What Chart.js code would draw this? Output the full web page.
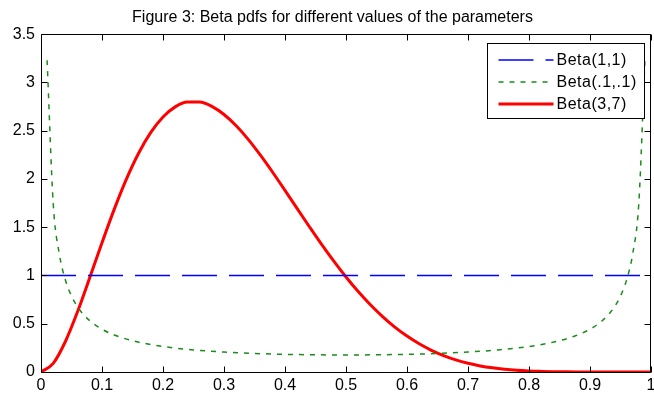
<!DOCTYPE html>
<html><head><meta charset="utf-8">
<script src="https://cdn.jsdelivr.net/npm/chart.js@4/dist/chart.umd.min.js"></script>
<style>html,body{margin:0;padding:0;background:#fff}canvas{display:block}</style>
</head><body>
<canvas id="c" width="654" height="395"></canvas>
<script>
const titleText = 'Figure 3: Beta pdfs for different values of the parameters';
const seriesLabels = ['Beta(1,1)', 'Beta(.1,.1)', 'Beta(3,7)'];

const uniformX = [0, 1];
const uniformY = [1, 1];

const symX = [0.01, 0.02, 0.03, 0.04, 0.05, 0.06, 0.07, 0.08, 0.10, 0.12, 0.15, 0.17, 0.20, 0.25, 0.30, 0.35, 0.40, 0.45, 0.50,
              0.55, 0.60, 0.65, 0.70, 0.75, 0.80, 0.83, 0.85, 0.88, 0.90, 0.92, 0.93, 0.94, 0.95, 0.96, 0.97, 0.98, 0.99];
const symY = [3.23, 1.747, 1.224, 0.954, 0.787, 0.675, 0.593, 0.531, 0.443, 0.384, 0.324, 0.296, 0.264, 0.229, 0.207, 0.192, 0.183, 0.178, 0.177,
              0.178, 0.183, 0.192, 0.207, 0.229, 0.264, 0.296, 0.324, 0.384, 0.443, 0.531, 0.593, 0.675, 0.787, 0.954, 1.224, 1.747, 3.23];

const skewX = [0, 0.02, 0.04, 0.06, 0.08, 0.10, 0.12, 0.14, 0.16, 0.18, 0.20, 0.22, 0.24, 0.26, 0.28, 0.30, 0.32, 0.34, 0.36, 0.38,
               0.40, 0.42, 0.44, 0.46, 0.48, 0.50, 0.52, 0.54, 0.56, 0.58, 0.60, 0.62, 0.64, 0.66, 0.68, 0.70, 0.72, 0.74, 0.76, 0.78,
               0.80, 0.82, 0.84, 0.86, 0.88, 0.90, 0.92, 0.94, 0.96, 0.98, 1.00];
const skewY = [0, 0.089, 0.316, 0.626, 0.978, 1.339, 1.685, 1.998, 2.266, 2.482, 2.642, 2.747, 2.797, 2.797, 2.752, 2.668, 2.551, 2.408, 2.244, 2.067,
               1.881, 1.692, 1.505, 1.322, 1.148, 0.984, 0.833, 0.696, 0.574, 0.465, 0.372, 0.292, 0.225, 0.170, 0.125, 0.090, 0.063, 0.043, 0.028, 0.017,
               0.010, 0.006, 0.003, 0.0014, 0.0006, 0.0002, 0.0001, 0, 0, 0, 0];

const xTicks = [0, 0.1, 0.2, 0.3, 0.4, 0.5, 0.6, 0.7, 0.8, 0.9, 1];
const xTickLabels = ['0', '0.1', '0.2', '0.3', '0.4', '0.5', '0.6', '0.7', '0.8', '0.9', '1'];
const yTicks = [0, 0.5, 1, 1.5, 2, 2.5, 3, 3.5];
const yTickLabels = ['0', '0.5', '1', '1.5', '2', '2.5', '3', '3.5'];

const toPts = (xs, ys) => xs.map((x, i) => ({x: x, y: ys[i]}));

// centre the title a little to the right, as in the reference
const titleShift = {
  id: 'titleShift',
  afterLayout(chart) {
    if (chart.titleBlock) { chart.titleBlock.left += 14; }
  }
};

const frameAndLegend = {
  id: 'frameAndLegend',
  afterDatasetsDraw(chart) {
    const ctx = chart.ctx;
    const ca = chart.chartArea;
    const xs = chart.scales.x, ys = chart.scales.y;
    const L = Math.round(ca.left) + 0.5, R = Math.round(ca.right) - 0.5;
    const T = Math.round(ca.top) + 0.5, B = Math.round(ca.bottom) + 0.5;
    const tl = 6;
    ctx.save();
    ctx.strokeStyle = '#000';
    ctx.lineWidth = 1;
    ctx.setLineDash([]);
    ctx.beginPath();
    ctx.rect(L, T, R - L, B - T);
    xTicks.forEach(v => {
      const p = Math.round(xs.getPixelForValue(v)) + 0.5;
      ctx.moveTo(p, B); ctx.lineTo(p, B - tl);
      ctx.moveTo(p, T); ctx.lineTo(p, T + tl);
    });
    yTicks.forEach(v => {
      const p = Math.round(ys.getPixelForValue(v)) + 0.5;
      ctx.moveTo(L, p); ctx.lineTo(L + tl, p);
      ctx.moveTo(R, p); ctx.lineTo(R - tl, p);
    });
    ctx.stroke();

    // legend box
    const bw = 157, bh = 75;
    const bx = Math.round(ca.right) - 7 - bw + 0.5;
    const by = Math.round(ca.top) + 9 + 0.5;
    ctx.fillStyle = '#fff';
    ctx.fillRect(bx, by, bw, bh);
    ctx.strokeRect(bx, by, bw, bh);
    ctx.font = '16px "Liberation Sans", Arial, sans-serif';
    if ('letterSpacing' in ctx) ctx.letterSpacing = '0.5px';
    ctx.textBaseline = 'middle';
    ctx.textAlign = 'left';
    chart.data.datasets.forEach((ds, i) => {
      const y = Math.round(by + 16 + i * 22);
      ctx.save();
      ctx.strokeStyle = ds.borderColor;
      ctx.lineWidth = ds.borderWidth;
      ctx.setLineDash(ds.borderDash || []);
      ctx.beginPath();
      ctx.moveTo(bx + 11, y);
      ctx.lineTo(bx + 66, y);
      ctx.stroke();
      ctx.restore();
      ctx.fillStyle = '#000';
      ctx.fillText(ds.label, bx + 69, y + 1);
    });
    ctx.restore();
  }
};

const tickFont = {family: '"Liberation Sans", Arial, sans-serif', size: 16};

new Chart(document.getElementById('c'), {
  type: 'line',
  data: {
    datasets: [
      {label: seriesLabels[0], data: toPts(uniformX, uniformY), borderColor: '#0000ff', borderWidth: 1.5,
       borderDash: [35, 12], pointRadius: 0, fill: false},
      {label: seriesLabels[1], data: toPts(symX, symY), borderColor: '#1a8c1a', borderWidth: 1.5,
       borderDash: [5, 6], pointRadius: 0, fill: false, cubicInterpolationMode: 'monotone'},
      {label: seriesLabels[2], data: toPts(skewX, skewY), borderColor: '#ff0000', borderWidth: 3,
       pointRadius: 0, fill: false, cubicInterpolationMode: 'monotone'}
    ]
  },
  options: {
    responsive: false,
    animation: false,
    devicePixelRatio: 1,
    layout: {padding: {left: 0, right: 3, top: 0, bottom: 0}},
    plugins: {
      legend: {display: false},
      tooltip: {enabled: false},
      title: {display: true, text: titleText, color: '#000',
              font: {family: '"Liberation Sans", Arial, sans-serif', size: 16, weight: 'normal'},
              padding: {top: 8, bottom: 7}}
    },
    scales: {
      x: {
        type: 'linear', min: 0, max: 1,
        afterBuildTicks: s => { s.ticks = xTicks.map(v => ({value: v})); },
        ticks: {callback: (v, i) => xTickLabels[i], color: '#000', font: tickFont, padding: 4,
                maxRotation: 0, minRotation: 0, autoSkip: false},
        grid: {display: false, drawTicks: false},
        border: {display: false},
        afterFit: s => { s.height = 23; s.paddingLeft = 0; s.paddingRight = 0; }
      },
      y: {
        type: 'linear', min: 0, max: 3.5,
        afterBuildTicks: s => { s.ticks = yTicks.map(v => ({value: v})); },
        ticks: {callback: (v, i) => yTickLabels[i], color: '#000', font: tickFont, padding: 6, autoSkip: false},
        grid: {display: false, drawTicks: false},
        border: {display: false},
        afterFit: s => { s.width = 41; s.paddingTop = 0; s.paddingBottom = 0; }
      }
    }
  },
  plugins: [titleShift, frameAndLegend]
});
</script>
</body></html>
